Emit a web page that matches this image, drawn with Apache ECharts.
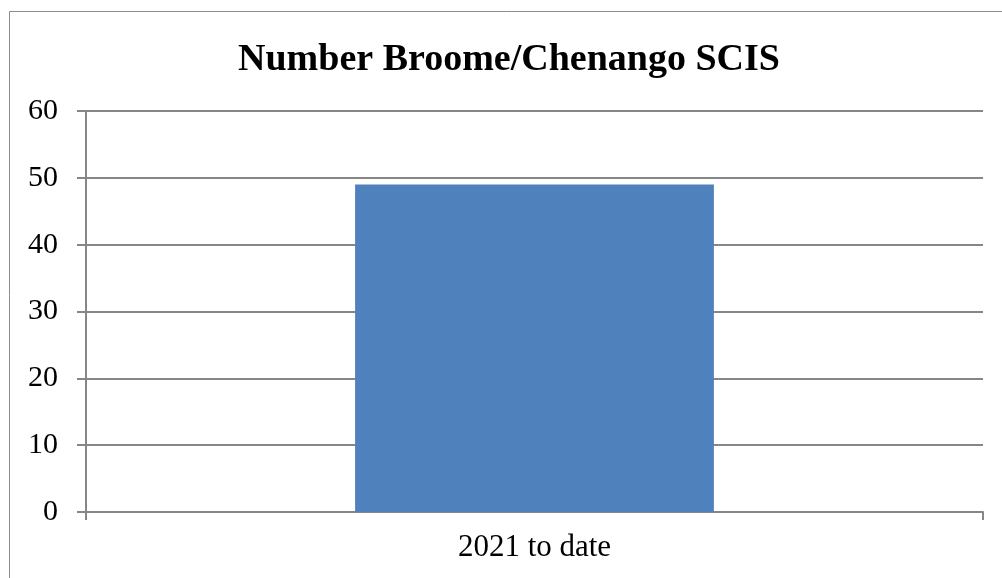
<!DOCTYPE html>
<html>
<head>
<meta charset="utf-8">
<script src="https://cdn.jsdelivr.net/npm/echarts@6/dist/echarts.min.js"></script>
<style>
  html, body { margin: 0; padding: 0; background: #ffffff; }
  #chart { width: 1002px; height: 578px; }
</style>
</head>
<body>
<div id="chart"></div>
<script>
// Chart data
const titleText = 'Number Broome/Chenango SCIS';
const categories = ['2021 to date'];
const counts = [49];
const yMin = 0;
const yMax = 60;
const yStep = 10;

const serif = '"Liberation Serif", "Times New Roman", serif';
const lineGray = '#868686';

const chart = echarts.init(document.getElementById('chart'), null, { renderer: 'canvas' });

chart.setOption({
  backgroundColor: '#ffffff',
  animation: false,
  title: {
    text: titleText,
    left: 504,
    textAlign: 'center',
    top: 36,
    textStyle: { fontFamily: serif, fontWeight: 'bold', fontSize: 38, color: '#000000' }
  },
  // outer chart frame
  graphic: [{
    type: 'rect',
    shape: { x: 9.5, y: 11.5, width: 1010, height: 620 },
    style: { fill: 'none', stroke: '#8c8c8c', lineWidth: 1 },
    silent: true
  }],
  grid: { left: 86, right: 19, top: 111, bottom: 66, containLabel: false },
  xAxis: {
    type: 'category',
    data: categories,
    boundaryGap: true,
    axisLine: { show: true, lineStyle: { color: lineGray, width: 2 } },
    axisTick: { show: true, length: 8, lineStyle: { color: lineGray, width: 2 } },
    axisLabel: { fontFamily: serif, fontSize: 31, color: '#000000', margin: 20 }
  },
  yAxis: {
    type: 'value',
    min: yMin,
    max: yMax,
    interval: yStep,
    axisLine: { show: true, lineStyle: { color: lineGray, width: 2 } },
    axisTick: { show: true, length: 9, lineStyle: { color: lineGray, width: 2 } },
    splitLine: { show: true, lineStyle: { color: lineGray, width: 2 } },
    axisLabel: { fontFamily: serif, fontSize: 30, color: '#000000', margin: 28 }
  },
  series: [{
    type: 'bar',
    data: counts,
    barCategoryGap: '60%',
    itemStyle: { color: '#4F81BD' }
  }]
});
</script>
</body>
</html>
